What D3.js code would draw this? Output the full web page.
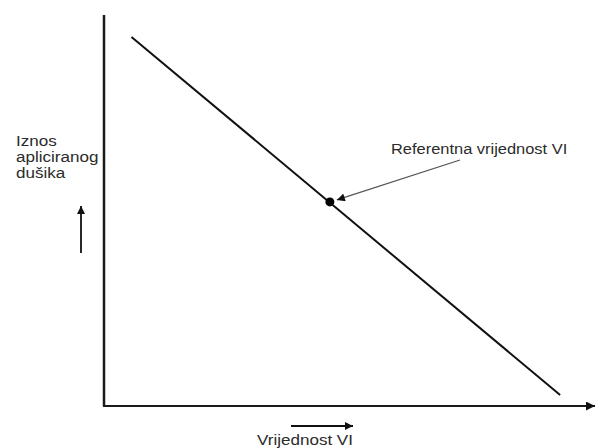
<!DOCTYPE html>
<html>
<head>
<meta charset="utf-8">
<script src="https://cdn.jsdelivr.net/npm/d3@7"></script>
<style>
  body { margin: 0; background: #fff; }
  text { font-family: "Liberation Sans", Arial, sans-serif; fill: #2b2b2b; }
</style>
</head>
<body>
<svg id="chart" width="607" height="448"></svg>
<script>
// schematic values (no ticks on the original)
const lineX = [5.6, 92.9]
const lineY = [94.4, 2.8]
const refX = [46.0]
const refY = [52.2]
const refLabel = "Referentna vrijednost VI"
const yLabel = ["Iznos", "apliciranog", "dušika"]
const xLabel = "Vrijednost VI"

const svg = d3.select("#chart")
const plotLeft = 104, plotRight = 595, plotTop = 15, plotBottom = 406

const x = d3.scaleLinear().domain([0, 100]).range([plotLeft, plotRight])
const y = d3.scaleLinear().domain([0, 100]).range([plotBottom, plotTop])

const defs = svg.append("defs")
function marker(id, w, h, color) {
    defs.append("marker")
        .attr("id", id)
        .attr("viewBox", "0 0 10 10")
        .attr("refX", 10).attr("refY", 5)
        .attr("markerUnits", "userSpaceOnUse")
        .attr("markerWidth", w).attr("markerHeight", h)
        .attr("orient", "auto")
        .append("path")
        .attr("d", "M0,0 L10,5 L0,10 Z")
        .attr("fill", color)
}
marker("head", 11, 9, "#111")
marker("headSmall", 10, 8, "#111")

// text is a bit wider than plain Arial in the original, so stretch it a little
function label(px, py, size, sx) {
    return svg.append("g")
        .attr("transform", "translate(" + px + "," + py + ") scale(" + sx + ",1)")
        .append("text")
        .attr("font-size", size)
}

// axes
svg.append("line")
    .attr("x1", x(0)).attr("y1", y(100))
    .attr("x2", x(0)).attr("y2", y(0))
    .attr("stroke", "#1a1a1a").attr("stroke-width", 2.5)
svg.append("line")
    .attr("x1", x(0) - 1).attr("y1", y(0))
    .attr("x2", x(100)).attr("y2", y(0))
    .attr("stroke", "#1a1a1a").attr("stroke-width", 2.2)
    .attr("marker-end", "url(#head)")

// main line
const pts = lineX.map((d, i) => [d, lineY[i]])
svg.append("path")
    .datum(pts)
    .attr("d", d3.line().x(d => x(d[0])).y(d => y(d[1])))
    .attr("fill", "none")
    .attr("stroke", "#111")
    .attr("stroke-width", 2)

// reference point
svg.selectAll(".ref")
    .data(refX)
    .enter()
    .append("circle")
    .attr("class", "ref")
    .attr("cx", d => x(d))
    .attr("cy", (d, i) => y(refY[i]))
    .attr("r", 4.5)
    .attr("fill", "#000")

// annotation
svg.append("line")
    .attr("x1", 460).attr("y1", 160)
    .attr("x2", x(refX[0]) + 7).attr("y2", y(refY[0]) - 2)
    .attr("stroke", "#555").attr("stroke-width", 1.3)
    .attr("marker-end", "url(#headSmall)")
label(391, 154, 15.5, 1.06).text(refLabel)

// y label + arrow
label(16, 146, 15.5, 1.1)
    .selectAll("tspan")
    .data(yLabel)
    .enter()
    .append("tspan")
    .attr("x", 0)
    .attr("dy", (d, i) => i === 0 ? 0 : 16)
    .text(d => d)
svg.append("line")
    .attr("x1", 81).attr("y1", 253)
    .attr("x2", 81).attr("y2", 206)
    .attr("stroke", "#111").attr("stroke-width", 1.8)
    .attr("marker-end", "url(#headSmall)")

// x label + arrow
svg.append("line")
    .attr("x1", 291).attr("y1", 426)
    .attr("x2", 353).attr("y2", 426)
    .attr("stroke", "#111").attr("stroke-width", 1.8)
    .attr("marker-end", "url(#headSmall)")
label(257, 445, 15.5, 1.1).text(xLabel)
</script>
</body>
</html>
